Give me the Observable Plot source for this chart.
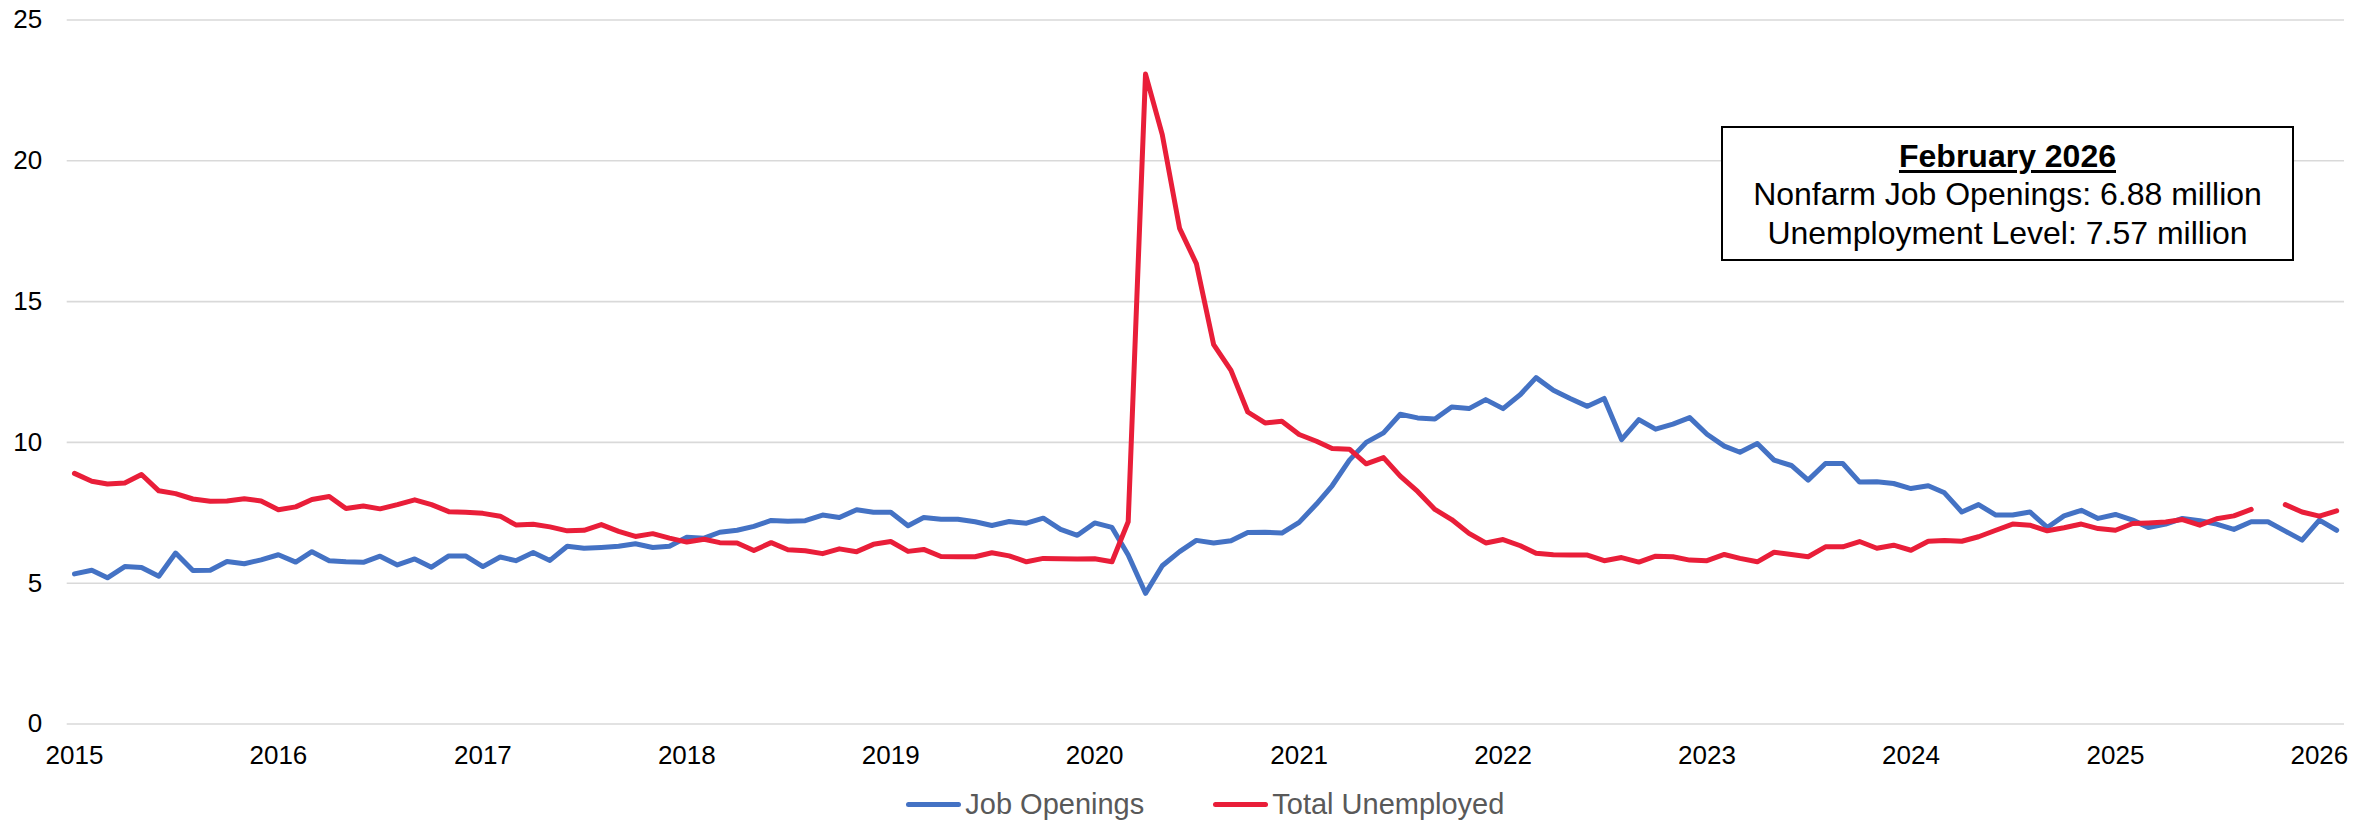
<!DOCTYPE html>
<html>
<head>
<meta charset="utf-8">
<script src="https://cdn.jsdelivr.net/npm/d3@7"></script>
<script src="https://cdn.jsdelivr.net/npm/@observablehq/plot@0.6"></script>
<style>
  html, body { margin: 0; padding: 0; background: #fff; }
  body {
    width: 2376px; height: 822px; overflow: hidden; position: relative;
    font-family: "Liberation Sans", Arial, sans-serif;
  }
  #chart { position: absolute; left: 0; top: 0; }
  #note {
    position: absolute; left: 1721px; top: 126px; width: 573px; height: 135px;
    box-sizing: border-box; border: 2px solid #000; background: #fff;
    text-align: center; font-size: 32px; line-height: 38.5px; padding-top: 8.5px; color: #000;
  }
  #note .head { font-weight: bold; text-decoration: underline; text-underline-offset: 3px; }
  #legend {
    position: absolute; left: 66.7px; width: 2277.3px; top: 780px; height: 49px;
    display: flex; justify-content: center; align-items: center; gap: 69px;
    font-size: 29px; color: #595959;
  }
  #legend .item { display: flex; align-items: center; gap: 4px; }
  #legend .swatch { width: 55px; height: 5.5px; border-radius: 3px; }
</style>
</head>
<body>
<div id="chart"></div>
<div id="note"></div>
<div id="legend"></div>
<script>
// Monthly series, millions, starting January 2015
const startYear = 2015;

const jobOpenings = [
  5.33, 5.46, 5.19, 5.59, 5.56, 5.25, 6.07, 5.45, 5.46, 5.77, 5.69, 5.83,
  6.01, 5.75, 6.12, 5.80, 5.76, 5.74, 5.96, 5.65, 5.86, 5.57, 5.97, 5.97,
  5.59, 5.93, 5.80, 6.09, 5.81, 6.31, 6.24, 6.27, 6.31, 6.40, 6.27, 6.31,
  6.63, 6.60, 6.81, 6.88, 7.02, 7.23, 7.20, 7.22, 7.42, 7.33, 7.61, 7.52,
  7.52, 7.04, 7.33, 7.27, 7.27, 7.18, 7.05, 7.19, 7.13, 7.31, 6.91, 6.70,
  7.14, 6.98, 6.00, 4.64, 5.62, 6.12, 6.52, 6.43, 6.51, 6.80, 6.81, 6.78,
  7.16, 7.81, 8.46, 9.37, 10.00, 10.34, 11.00, 10.87, 10.83, 11.26, 11.20, 11.52,
  11.20, 11.70, 12.30, 11.85, 11.56, 11.28, 11.56, 10.10, 10.81, 10.47, 10.65, 10.88,
  10.29, 9.87, 9.65, 9.96, 9.37, 9.18, 8.66, 9.25, 9.25, 8.59, 8.60, 8.54,
  8.36, 8.46, 8.21, 7.53, 7.79, 7.42, 7.42, 7.53, 6.98, 7.39, 7.59, 7.30,
  7.44, 7.24, 6.98, 7.10, 7.30, 7.22, 7.10, 6.91, 7.18, 7.18, 6.85, 6.53,
  7.24, 6.88
];

// October 2025 was not published
const totalUnemployed = [
  8.90, 8.62, 8.52, 8.56, 8.86, 8.28, 8.18, 7.99, 7.91, 7.92, 8.00, 7.92,
  7.61, 7.71, 7.97, 8.08, 7.65, 7.74, 7.64, 7.79, 7.96, 7.79, 7.54, 7.52,
  7.48, 7.38, 7.07, 7.09, 7.00, 6.86, 6.88, 7.08, 6.84, 6.66, 6.76, 6.60,
  6.46, 6.56, 6.44, 6.43, 6.16, 6.44, 6.19, 6.15, 6.05, 6.22, 6.12, 6.38,
  6.48, 6.13, 6.20, 5.95, 5.94, 5.94, 6.08, 5.97, 5.76, 5.88, 5.87, 5.86,
  5.87, 5.76, 7.18, 23.08, 20.93, 17.60, 16.35, 13.47, 12.56, 11.08, 10.69, 10.75,
  10.28, 10.04, 9.78, 9.76, 9.24, 9.46, 8.80, 8.26, 7.62, 7.26, 6.77, 6.43,
  6.55, 6.33, 6.06, 6.01, 6.00, 6.00, 5.80, 5.91, 5.75, 5.96, 5.94, 5.82,
  5.80, 6.02, 5.88, 5.76, 6.10, 6.02, 5.94, 6.29, 6.29, 6.48, 6.24, 6.35,
  6.17, 6.49, 6.52, 6.49, 6.65, 6.88, 7.10, 7.06, 6.86, 6.97, 7.10, 6.94,
  6.88, 7.12, 7.14, 7.17, 7.26, 7.06, 7.29, 7.39, 7.62, null, 7.79, 7.53,
  7.38, 7.57
];

const seriesNames = ["Job Openings", "Total Unemployed"];
const seriesColors = ["#4472C4", "#E91E39"];
const yTicks = [0, 5, 10, 15, 20, 25];
const xTickYears = [2015, 2016, 2017, 2018, 2019, 2020, 2021, 2022, 2023, 2024, 2025, 2026];

const monthDate = (i) => new Date(Date.UTC(startYear, i, 1));
const toRows = (values) => values.map((v, i) => ({date: monthDate(i), value: v}));
const openingRows = toRows(jobOpenings);
const unemployedRows = toRows(totalUnemployed);
const yearTicks = xTickYears.map((y) => new Date(Date.UTC(y, 0, 1)));

const lineStyle = {x: "date", y: "value", strokeWidth: 5, strokeLinejoin: "round", strokeLinecap: "round"};

const chart = Plot.plot({
  width: 2376,
  height: 780,
  marginLeft: 66.7,
  marginRight: 32,
  marginTop: 19.5,
  marginBottom: 56.5,
  style: {fontFamily: "'Liberation Sans', Arial, sans-serif", fontSize: "26px", color: "#000", background: "#fff", overflow: "visible"},
  x: {type: "utc", domain: [new Date(Date.UTC(2014, 11, 19)), new Date(Date.UTC(2026, 1, 15))]},
  y: {domain: [0, 25]},
  marks: [
    Plot.gridY(yTicks, {stroke: "#D9D9D9", strokeOpacity: 1, strokeWidth: 1.6}),
    Plot.axisY(yTicks, {tickSize: 0, tickPadding: 25, fontSize: 26, label: null}),
    Plot.axisX(yearTicks, {tickSize: 0, tickPadding: 22, fontSize: 26, tickFormat: d3.utcFormat("%Y"), label: null}),
    Plot.lineY(openingRows, {...lineStyle, stroke: seriesColors[0]}),
    Plot.lineY(unemployedRows, {...lineStyle, stroke: seriesColors[1]})
  ]
});
document.getElementById("chart").appendChild(chart);

// Latest-month summary box
const lastIndex = jobOpenings.length - 1;
const note = document.getElementById("note");
note.innerHTML =
  `<div class="head">${d3.utcFormat("%B %Y")(monthDate(lastIndex))}</div>` +
  `<div>Nonfarm Job Openings: ${jobOpenings[lastIndex].toFixed(2)} million</div>` +
  `<div>Unemployment Level: ${totalUnemployed[lastIndex].toFixed(2)} million</div>`;

// Legend
const legend = document.getElementById("legend");
seriesNames.forEach((name, i) => {
  const item = document.createElement("div");
  item.className = "item";
  item.innerHTML = `<span class="swatch" style="background:${seriesColors[i]}"></span><span>${name}</span>`;
  legend.appendChild(item);
});
</script>
</body>
</html>
